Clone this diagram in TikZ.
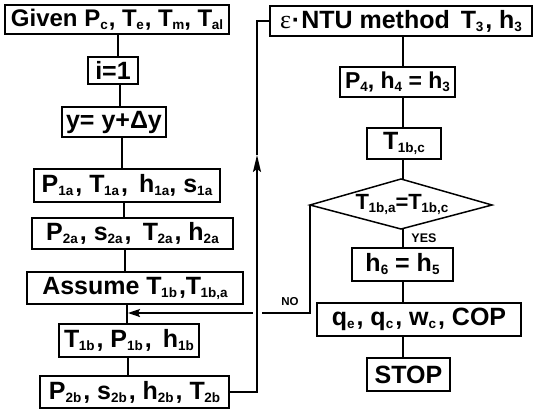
\documentclass[tikz,border=0pt]{standalone}
\usepackage{fontspec}
\setmainfont{Liberation Sans}
\newfontfamily\serifeps{Liberation Serif}
\usetikzlibrary{arrows.meta}
\newcommand\sbs[1]{\raisebox{-3pt}{\fontsize{13.5}{13.5}\selectfont #1}}
\newcommand\Tk{T\kern-0.5pt}
\newcommand\cm{\kern2pt,}
\tikzset{
  box/.style={draw, line width=1.5pt, inner sep=0pt, font=\bfseries\fontsize{25}{25}\selectfont},
  conn/.style={line width=1.9pt},
  lbl/.style={font=\bfseries\fontsize{12.5}{12.5}\selectfont, inner sep=0pt}
}
\begin{document}
\begin{tikzpicture}[x=1pt,y=-1pt]
\useasboundingbox (0,0) rectangle (541,410);
% left column
\node[box, minimum width=224, minimum height=29, font=\bfseries\fontsize{24}{24}\selectfont] (gv) at (117,19.5) {Given P\sbs{c}\kern1pt, \Tk\sbs{e}\kern1pt, \Tk\sbs{m}, \Tk\sbs{al}};
\node[box, minimum width=50, minimum height=27] (i1) at (113,70.5) {i=1};
\node[box, minimum width=104, minimum height=30] (yy) at (114,122) {y= y+Δy};
\node[box, minimum width=186, minimum height=33] (p1a) at (127,185.5) {P\sbs{1a}\cm{} \Tk\sbs{1a}\cm{} \,h\sbs{1a}, s\sbs{1a}};
\node[box, minimum width=201, minimum height=31] (p2a) at (132.5,233.5) {P\sbs{2a}\cm{} s\sbs{2a}\cm{} \,\Tk\sbs{2a}\cm{} h\sbs{2a}};
\node[box, minimum width=216, minimum height=32] (as) at (135,288) {Assume \Tk\sbs{1b}\cm\Tk\sbs{1b,a}};
\node[box, minimum width=140, minimum height=33] (t1b) at (129,340.5) {\Tk\sbs{1b}\cm{} P\sbs{1b}\cm{} \,h\sbs{1b}};
\node[box, minimum width=189, minimum height=32] (p2b) at (134.5,392) {P\sbs{2b}\cm{} s\sbs{2b}\cm{} h\sbs{2b}\cm{} \Tk\sbs{2b}};
% right column
\node[box, minimum width=262, minimum height=30] (eps) at (401,21) {{\serifeps\mdseries\fontsize{26}{26}\selectfont ε}\kern1pt·\kern1pt NTU method\, \Tk\sbs{3}\cm{} h\sbs{3}};
\node[box, minimum width=115, minimum height=30, font=\bfseries\fontsize{23}{23}\selectfont] (p4) at (397.5,82) {P\sbs{4}, h\sbs{4} = h\sbs{3}};
\node[box, minimum width=74, minimum height=31] (tbc) at (404,143.5) {\Tk\sbs{1b,c}};
\node[inner sep=0pt, font=\bfseries\fontsize{22}{22}\selectfont] (dia) at (402,204) {\Tk\sbs{1b,a}=\Tk\sbs{1b,c}};
\coordinate (dt) at (401,179);
\coordinate (db) at (401,229);
\coordinate (dl) at (310,205);
\coordinate (dr) at (492,205);
\draw[line width=1.5pt, line join=miter] (dt) -- (dr) -- (db) -- (dl) -- cycle;
\node[box, minimum width=101, minimum height=33] (h6) at (402.5,264.5) {h\sbs{6} = h\sbs{5}};
\node[box, minimum width=204, minimum height=33] (qe) at (419,319.5) {q\sbs{e}\cm{} q\sbs{c}\cm{} w\sbs{c}\cm{} COP};
\node[box, minimum width=83, minimum height=33] (stop) at (408.5,374.5) {STOP};
% labels
\node[lbl] (yes) at (424,238) {YES};
\node[lbl, font=\bfseries\fontsize{11.5}{11.5}\selectfont] (no) at (290,302) {NO};
% column coordinates
\coordinate (L1) at (118,0);
\coordinate (L2) at (120,0);
\coordinate (L3) at (122,0);
\coordinate (L4) at (124,0);
\coordinate (L5) at (125,0);
\coordinate (L6) at (127,0);
\coordinate (L7) at (128,0);
\coordinate (R) at (403,0);
% left connectors
\draw[conn] (gv.south -| L1) -- (i1.north -| L1);
\draw[conn] (i1.south -| L2) -- (yy.north -| L2);
\draw[conn] (yy.south -| L3) -- (p1a.north -| L3);
\draw[conn] (p1a.south -| L4) -- (p2a.north -| L4);
\draw[conn] (p2a.south -| L5) -- (as.north -| L5);
\draw[conn] (as.south -| L6) -- (t1b.north -| L6);
\draw[conn] (t1b.south -| L7) -- (p2b.north -| L7);
% right connectors
\draw[conn] (eps.south -| R) -- (p4.north -| R);
\draw[conn] (p4.south -| R) -- (tbc.north -| R);
\draw[conn] (tbc.south -| R) -- (dt -| R);
\draw[conn] (db -| R) -- (h6.north -| R);
\draw[conn] (h6.south -| R) -- (qe.north -| R);
\draw[conn] (qe.south -| R) -- (stop.north -| R);
% loop back up to eps
\coordinate (up) at (257,155);
\draw[conn, -{Stealth[length=17pt,width=8pt,inset=3pt]}] (p2b.east) -| (up);
\draw[conn] (up) |- (eps.west);
% NO branch
\coordinate (nc) at (310,313);
\coordinate (gr) at (261.5,313);
\coordinate (gl) at (252.5,313);
\coordinate (tip) at (128,313);
\draw[conn] (dl) -- (nc) -- (gr);
\draw[conn, -{Stealth[length=12pt,width=8pt,inset=2pt]}] (gl) -- (tip);
\end{tikzpicture}
\end{document}
